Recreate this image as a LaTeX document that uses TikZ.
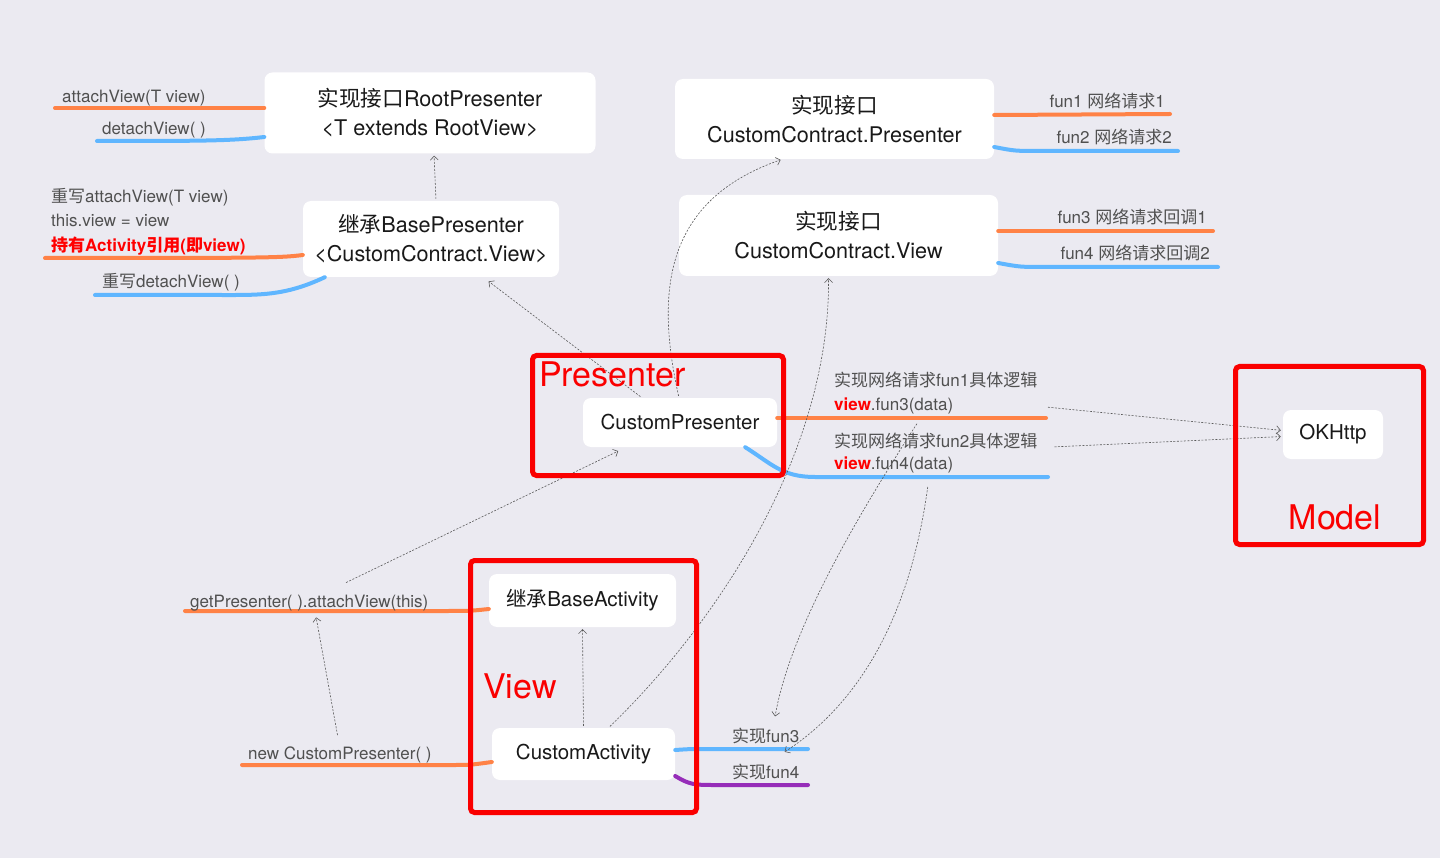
\documentclass[tikz,border=0pt]{standalone}
\usepackage{fontspec}
\setmainfont{TeX Gyre Heros}
\newfontfamily\cjk{Noto Sans CJK SC}
\usetikzlibrary{arrows.meta}
\definecolor{bgcol}{RGB}{235,234,241}
\definecolor{lineorange}{RGB}{255,130,70}
\definecolor{lineblue}{RGB}{95,182,255}
\definecolor{linepurple}{RGB}{150,45,185}
\definecolor{framered}{RGB}{250,0,0}
\definecolor{labelgray}{RGB}{80,80,80}
\definecolor{boxtext}{RGB}{25,25,25}
\definecolor{dashgray}{RGB}{90,90,90}

\begin{document}
\begin{tikzpicture}[x=1pt, y=-1pt,
  box/.style={fill=white, rounded corners=8pt, align=center, inner sep=0pt,
              text=boxtext, font=\fontsize{20.5}{29}\selectfont},
  widebox/.style={box, font=\fontsize{21.6}{29}\selectfont},
  groupframe/.style={draw=framered, line width=5pt, rounded corners=4pt, inner sep=0pt},
  grouplabel/.style={text=framered, inner sep=0pt, font=\fontsize{34}{40}\selectfont},
  lbl/.style={text=labelgray, inner sep=0pt, font=\fontsize{17}{20}\selectfont},
  redlbl/.style={text=red, inner sep=0pt, font=\fontsize{17}{20}\selectfont\bfseries},
  branch/.style={line width=4pt, line cap=round},
  orangeline/.style={branch, draw=lineorange},
  blueline/.style={branch, draw=lineblue},
  purpleline/.style={branch, draw=linepurple},
  link/.style={draw=dashgray, line width=0.6pt, dash pattern=on 2pt off 1.5pt,
               -{Straight Barb[length=4pt,width=8pt]}, shorten <=2pt, shorten >=2pt}]
  \useasboundingbox (0,0) rectangle (1440,858);
  \fill[bgcol] (0,0) rectangle (1440,858);

  % Boxes
  \node[widebox, minimum width=331pt, minimum height=81pt] (root) at (430,113)
       {{\cjk 实现接口}RootPresenter\\<T extends RootView>};
  \node[widebox, minimum width=256pt, minimum height=76pt] (base) at (431,239)
       {{\cjk 继承}BasePresenter\\<CustomContract.View>};
  \node[widebox, minimum width=319pt, minimum height=80pt] (cpres) at (834.5,119)
       {{\cjk 实现接口}\\CustomContract.Presenter};
  \node[widebox, minimum width=319pt, minimum height=81pt] (cview) at (838.5,235.5)
       {{\cjk 实现接口}\\CustomContract.View};
  \node[box, minimum width=194pt, minimum height=49pt] (cp) at (680,422.5) {CustomPresenter};
  \node[box, minimum width=100pt, minimum height=49pt] (ok) at (1333,434.5) {OKHttp};
  \node[box, minimum width=187pt, minimum height=53pt] (ba) at (582.5,600.5)
       {{\cjk 继承}BaseActivity};
  \node[box, minimum width=183pt, minimum height=52pt] (ca) at (583.5,754) {CustomActivity};

  % Branch ends
  \coordinate (attL) at (55,108);
  \coordinate (detL) at (97,141);
  \coordinate (holdL) at (45,258);
  \coordinate (rdetL) at (95,295);
  \coordinate (f1R) at (1170,114);
  \coordinate (f2R) at (1178,151);
  \coordinate (f3R) at (1213,231);
  \coordinate (f4R) at (1218,267);
  \coordinate (cpoR) at (1046,418);
  \coordinate (cpbR) at (1048,477);
  \coordinate (gpL) at (185,611);
  \coordinate (ncL) at (242,765);
  \coordinate (f3a) at (808,749);
  \coordinate (f4a) at (808,785);

  % Branch lines
  \draw[orangeline] ([yshift=5pt]root.west) -- (attL);
  \draw[blueline] ([yshift=-24pt]root.west) .. controls (230,141) and (200,141) .. (detL);
  \draw[orangeline] ([yshift=-16pt]base.west) .. controls (280,258) and (260,258) .. (holdL);
  \draw[blueline] ([xshift=22pt]base.south west) .. controls (285,296) and (260,295) .. (220,295) -- (rdetL);
  \draw[orangeline] ([yshift=4pt]cpres.east) -- (f1R);
  \draw[blueline] ([yshift=-28pt]cpres.east) .. controls (1015,151) .. (1040,151) -- (f2R);
  \draw[orangeline] ([yshift=4.5pt]cview.east) -- (f3R);
  \draw[blueline] ([yshift=-27.5pt]cview.east) .. controls (1020,267) .. (1045,267) -- (f4R);
  \draw[orangeline] ([yshift=4.5pt]cp.east) -- (cpoR);
  \draw[blueline] ([xshift=-32pt]cp.south east) .. controls (772,464) and (782,477) .. (815,477) -- (cpbR);
  \draw[orangeline] ([yshift=-8.5pt]ba.west) .. controls (470,611) .. (440,611) -- (gpL);
  \draw[orangeline] ([yshift=-8pt]ca.west) .. controls (470,765) .. (450,765) -- (ncL);
  \draw[blueline] ([yshift=4pt]ca.east) .. controls (690,749) .. (710,749) -- (f3a);
  \draw[purpleline] ([yshift=-22pt]ca.east) .. controls (690,785) and (695,785) .. (715,785) -- (f4a);

  % Branch labels
  \node[lbl, anchor=base west] (attT) at (62,103) {attachView(T view)};
  \node[lbl, anchor=base west] (detT) at (102,135) {detachView( )};
  \node[lbl, anchor=base west] (ovaT) at (51,203) {{\cjk 重写}attachView(T view)};
  \node[lbl, anchor=base west] (thisT) at (51,227) {this.view = view};
  \node[redlbl, anchor=base west] (holdT) at (51,252)
       {{\cjk 持有}Activity{\cjk 引用}({\cjk 即}view)};
  \node[lbl, anchor=base west] (ovdT) at (102,288) {{\cjk 重写}detachView( )};
  \node[lbl, anchor=base east] (f1T) at (1165,108) {fun1 {\cjk 网络请求}1};
  \node[lbl, anchor=base east] (f2T) at (1172,144) {fun2 {\cjk 网络请求}2};
  \node[lbl, anchor=base east] (f3T) at (1207,224) {fun3 {\cjk 网络请求回调}1};
  \node[lbl, anchor=base east] (f4T) at (1210,260) {fun4 {\cjk 网络请求回调}2};
  \node[lbl, anchor=base west] (lg1) at (834,387) {{\cjk 实现网络请求}fun1{\cjk 具体逻辑}};
  \node[lbl, anchor=base west] (cb1) at (834,410) {\textcolor{red}{\bfseries view}.fun3(data)};
  \node[lbl, anchor=base west] (lg2) at (834,447) {{\cjk 实现网络请求}fun2{\cjk 具体逻辑}};
  \node[lbl, anchor=base west] (cb2) at (834,469) {\textcolor{red}{\bfseries view}.fun4(data)};
  \node[lbl, anchor=base west] (gpT) at (190,607) {getPresenter( ).attachView(this)};
  \node[lbl, anchor=base west] (ncT) at (248,759) {new CustomPresenter( )};
  \node[lbl, anchor=base west] (i3T) at (732,742) {{\cjk 实现}fun3};
  \node[lbl, anchor=base west] (i4T) at (732,778) {{\cjk 实现}fun4};

  % Dashed links
  \draw[link] ([xshift=5pt]base.north) -- ([xshift=4pt]root.south);
  \draw[link] ([xshift=-38pt]cp.north) -- ([xshift=56pt,yshift=-3pt]base.south);
  \draw[link] ([xshift=-1pt]cp.north) .. controls (655,290) and (665,200) .. ([xshift=-52pt]cpres.south);
  \draw[link] ([xshift=25pt]ca.north) .. controls (720,620) and (830,450) .. ([xshift=-10pt]cview.south);
  \draw[link] (ca.north) -- (ba.south);
  \draw[link] ([xshift=35pt,yshift=11pt]gpT.north) -- ([xshift=-60pt,yshift=-3pt]cp.south);
  \draw[link] ([xshift=-2pt,yshift=9pt]ncT.north) -- ([xshift=6.5pt,yshift=-4.5pt]gpT.south);
  \draw[link] ([yshift=11pt]cpoR) -- ([yshift=4pt]ok.west);
  \draw[link] ([xshift=15pt,yshift=-6.5pt]lg2.east) -- ([yshift=-2pt]ok.west);
  \draw[link] ([xshift=-128pt,yshift=-4pt]cpoR) .. controls (858,515) and (790,630) .. ([xshift=9pt,yshift=9pt]i3T.north);
  \draw[link] ([xshift=-120pt,yshift=-8pt]cpbR) .. controls (915,580) and (880,690) .. ([xshift=-25pt,yshift=-4pt]f3a);

  % Layer frames
  \node[groupframe, minimum width=251pt, minimum height=120pt] (presFrame) at (658,415.5) {};
  \node[groupframe, minimum width=188pt, minimum height=178pt] (modelFrame) at (1329.5,455.5) {};
  \node[groupframe, minimum width=226pt, minimum height=252pt] (viewFrame) at (583.5,686.5) {};
  \node[grouplabel, anchor=base west] (presT) at (539,386) {Presenter};
  \node[grouplabel, anchor=base] (modelT) at (1335,529) {Model};
  \node[grouplabel, anchor=base west] (viewT) at (483,698) {View};
\end{tikzpicture}
\end{document}
